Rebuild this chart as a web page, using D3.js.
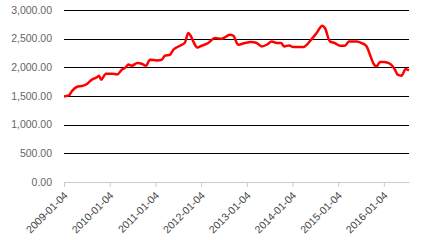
<!DOCTYPE html>
<meta charset="utf-8">
<title>Weekly index 2009-2016</title>
<style>
  body { margin: 0; background: #fff; }
  text { font-family: "Liberation Sans", Arial, sans-serif; }
</style>
<div id="chart"></div>
<script src="https://d3js.org/d3.v7.min.js"></script>
<script>

// dates and values
var dates = [
  "2009-01-04", "2009-02-13", "2009-03-06", "2009-04-15", "2009-06-07", "2009-07-09",
  "2009-08-13", "2009-09-27", "2009-10-11", "2009-10-27", "2009-12-06", "2010-01-20",
  "2010-03-06", "2010-04-10", "2010-05-14", "2010-06-02", "2010-06-29", "2010-08-13",
  "2010-09-17", "2010-10-21", "2010-11-22", "2011-01-15", "2011-02-24", "2011-03-22",
  "2011-05-01", "2011-05-28", "2011-07-20", "2011-08-29", "2011-09-24", "2011-10-13",
  "2011-11-03", "2011-12-05", "2012-01-09", "2012-03-02", "2012-04-24", "2012-06-17",
  "2012-08-22", "2012-09-18", "2012-10-28", "2012-12-20", "2013-02-06", "2013-03-24",
  "2013-05-03", "2013-06-12", "2013-07-22", "2013-08-31", "2013-10-04", "2013-10-30",
  "2013-12-07", "2014-01-10", "2014-03-31", "2014-06-06", "2014-07-16", "2014-08-30",
  "2014-09-20", "2014-10-30", "2014-12-09", "2015-01-18", "2015-02-27", "2015-03-31",
  "2015-06-01", "2015-07-11", "2015-08-20", "2015-09-15", "2015-10-11", "2015-11-07",
  "2015-12-04", "2016-01-07", "2016-02-22", "2016-04-02", "2016-04-23", "2016-05-25",
  "2016-06-26", "2016-07-23"
];
var values = [
  1493, 1510, 1580, 1657, 1680, 1714,
  1784, 1831, 1854, 1784, 1889, 1889,
  1877, 1958, 2005, 2051, 2028, 2075,
  2063, 2028, 2133, 2121, 2133, 2203,
  2220, 2307, 2377, 2435, 2599, 2551,
  2452, 2347, 2377, 2424, 2511, 2499,
  2569, 2551, 2394, 2424, 2441, 2424,
  2365, 2394, 2452, 2424, 2424, 2365,
  2382, 2354, 2354, 2493, 2599, 2726,
  2686, 2452, 2424, 2377, 2377, 2452,
  2452, 2424, 2365, 2220, 2075, 2017,
  2093, 2093, 2063, 1958, 1871, 1854,
  1971, 1947
];

// axis ticks
var xTicks = ["2009-01-04", "2010-01-04", "2011-01-04", "2012-01-04",
              "2013-01-04", "2014-01-04", "2015-01-04", "2016-01-04"];
var yTicks = [0, 500, 1000, 1500, 2000, 2500, 3000];

var parse = d3.timeParse("%Y-%m-%d");
var fmt = d3.timeFormat("%Y-%m-%d");

var margin = {top: 10, right: 21, bottom: 58, left: 64},
    width = 430 - margin.left - margin.right,
    height = 240 - margin.top - margin.bottom;

var svg = d3.select("#chart")
  .append("svg")
    .attr("width", 430)
    .attr("height", 240)
  .append("g")
    .attr("transform", "translate(" + margin.left + "," + margin.top + ")");

var data = dates.map(function(d, i) { return {date: parse(d), value: values[i]}; });

var x = d3.scaleTime()
  .domain([parse(dates[0]), parse(dates[dates.length - 1])])
  .range([0, width]);

var y = d3.scaleLinear()
  .domain([0, 3000])
  .range([height, 0]);

// horizontal grid lines
svg.selectAll("line.grid")
  .data(yTicks.filter(function(d) { return d > 0; }))
  .enter()
  .append("line")
    .attr("class", "grid")
    .attr("x1", 0)
    .attr("x2", width)
    .attr("y1", function(d) { return Math.round(y(d)) + 0.5; })
    .attr("y2", function(d) { return Math.round(y(d)) + 0.5; })
    .attr("stroke", "#000")
    .attr("stroke-width", 1);

// y labels
svg.selectAll("text.ylab")
  .data(yTicks)
  .enter()
  .append("text")
    .attr("class", "ylab")
    .attr("x", -12)
    .attr("y", function(d) { return y(d); })
    .attr("dy", "0.35em")
    .attr("text-anchor", "end")
    .style("font-size", "10.5px")
    .style("fill", "#666")
    .text(function(d) { return d3.format(",.2f")(d); });

// x axis
var xAxis = svg.append("g")
  .attr("transform", "translate(0," + height + ")")
  .call(d3.axisBottom(x)
    .tickValues(xTicks.map(parse))
    .tickFormat(fmt)
    .tickSize(5)
    .tickSizeOuter(0));
xAxis.select(".domain").attr("stroke", "#ccc");
xAxis.selectAll(".tick line").attr("stroke", "#ccc");
xAxis.selectAll(".tick text")
  .attr("x", 0)
  .attr("y", 0)
  .attr("dx", 0)
  .attr("dy", 0)
  .attr("text-anchor", "end")
  .attr("transform", "translate(4,14) rotate(-45)")
  .style("font-family", "'Liberation Sans', Arial, sans-serif")
  .style("font-size", "10.5px")
  .style("fill", "#444");

// the line
var line = d3.line()
  .x(function(d) { return x(d.date); })
  .y(function(d) { return y(d.value); })
  .curve(d3.curveMonotoneX);

svg.append("path")
  .datum(data)
  .attr("d", line)
  .attr("fill", "none")
  .attr("stroke", "#ff0000")
  .attr("stroke-width", 2.5)
  .attr("stroke-linejoin", "round");

</script>
